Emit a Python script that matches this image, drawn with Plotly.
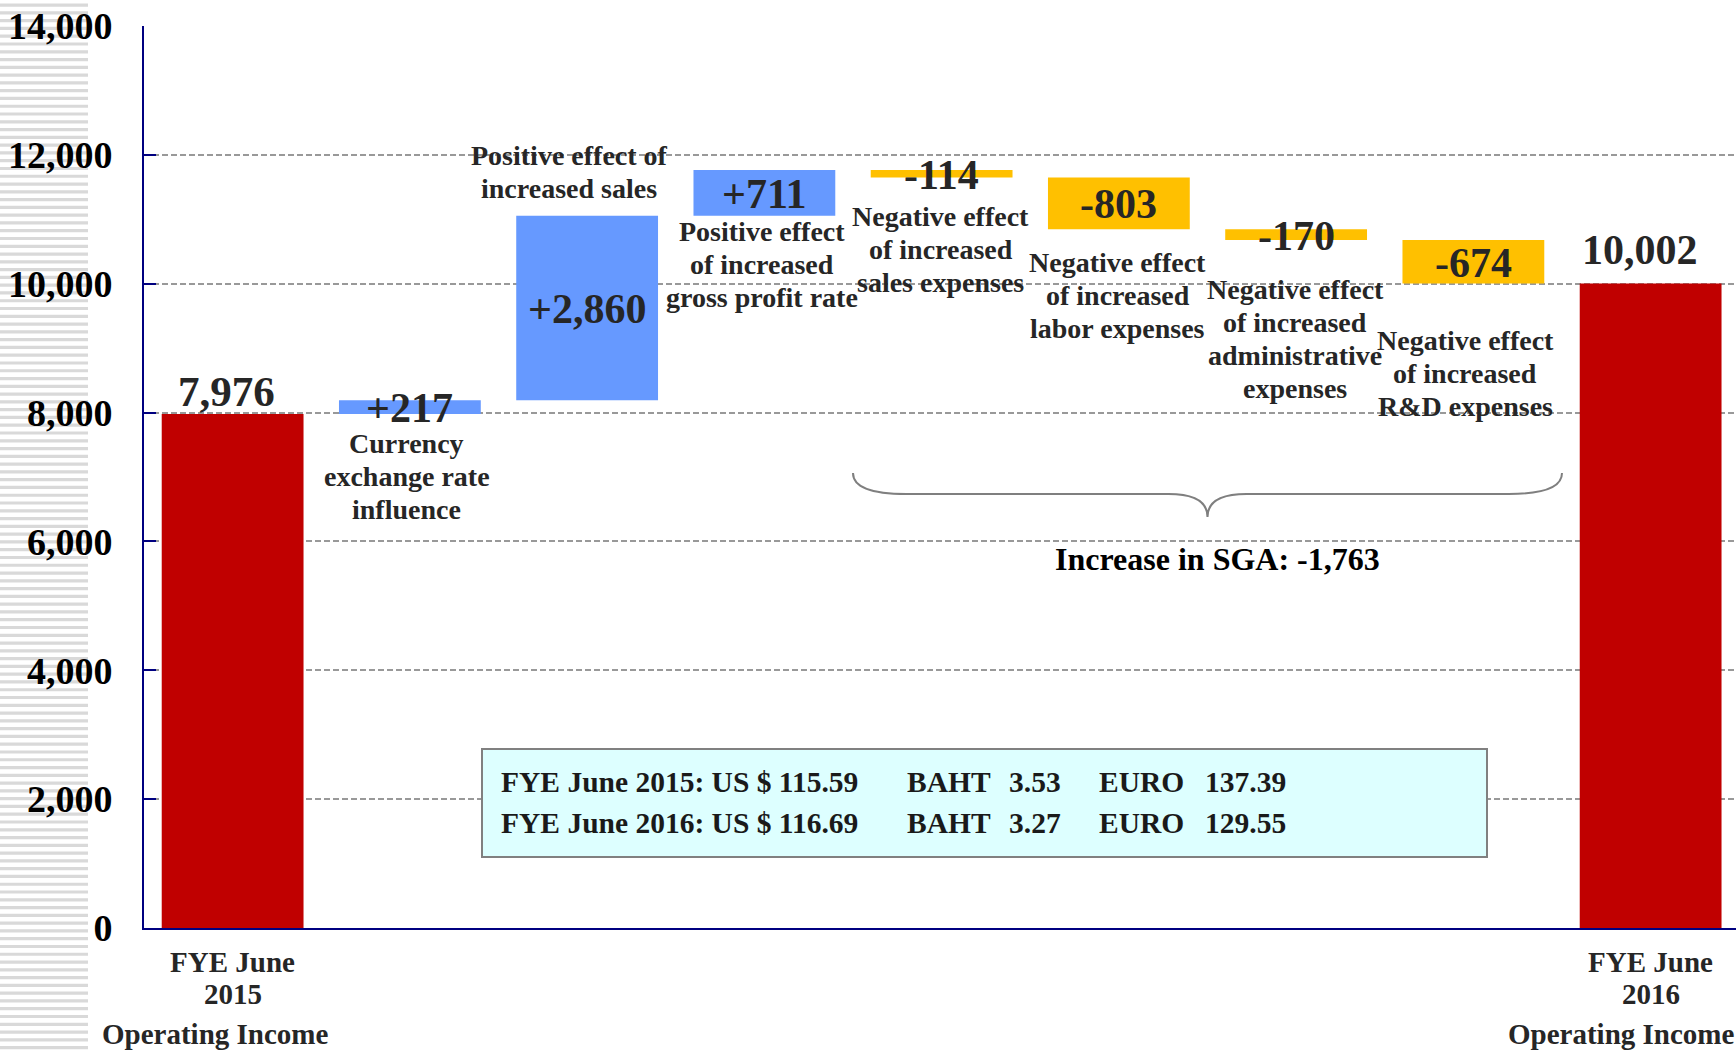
import plotly.graph_objects as go

# ---------------- data ----------------
categories = ["FYE June 2015", "Currency exchange rate influence", "Increased sales",
              "Gross profit rate", "Sales expenses", "Labor expenses",
              "Administrative expenses", "R&D expenses", "FYE June 2016"]
measures = ["absolute", "relative", "relative", "relative", "relative",
            "relative", "relative", "relative", "absolute"]
values = [7976, 217, 2860, 711, -114, -803, -170, -674, 10002]
value_labels = ["7,976", "+217", "+2,860", "+711", "-114", "-803", "-170", "-674", "10,002"]
descriptions = ["",
                "Currency<br>exchange rate<br>influence",
                "Positive effect of<br>increased sales",
                "Positive effect<br>of increased<br>gross profit rate",
                "Negative effect<br>of increased<br>sales expenses",
                "Negative effect<br>of increased<br>labor expenses",
                "Negative effect<br>of increased<br>administrative<br>expenses",
                "Negative effect<br>of increased<br>R&amp;D expenses",
                ""]
axis_line1 = ["FYE June", "", "", "", "", "", "", "", "FYE June"]
axis_line2 = ["2015", "", "", "", "", "", "", "", "2016"]
axis_line3 = ["Operating Income", "", "", "", "", "", "", "", "Operating Income"]
sga_items = ["Sales expenses", "Labor expenses", "Administrative expenses", "R&D expenses"]
sga_label = "Increase in SGA: -1,763"
fx_years = ["FYE June 2015: US $ 115.59", "FYE June 2016: US $ 116.69"]
fx_baht = ["3.53", "3.27"]
fx_euro = ["137.39", "129.55"]
y_ticks = [0, 2000, 4000, 6000, 8000, 10000, 12000, 14000]

# ---------------- layout constants ----------------
W, H = 1736, 1051
ML, MR, MT, MB = 144, 0, 26, 123
PW, PH = W - ML - MR, H - MT - MB
YMAX = 14000
CAT_W = 177.25          # pixel width of one category slot
X_END = -0.5 + PW / CAT_W
FONT = "Liberation Serif"
RED, BLUE, YELLOW = "#C00000", "#6699FF", "#FFC000"
TXT = "#262626"


def px_x(p):
    return (p - ML) / PW


def px_y(p):
    return (H - MB - p) / PH


def px_dy(p):  # pixel y -> data value
    return (H - MB - p) / PH * YMAX


def cat_paper(idx):  # category position (index units) -> paper x
    return (idx + 0.5) / (X_END + 0.5)


# bar extents from the running sum
bottoms, tops = [], []
running = 0
for m, v in zip(measures, values):
    if m == "absolute":
        b, t = 0, v
        running = v
    else:
        b = running
        running += v
        t = running
    bottoms.append(min(b, t))
    tops.append(max(b, t))

fig = go.Figure(go.Waterfall(
    x=categories, y=values, measure=measures,
    increasing=dict(marker=dict(color=BLUE)),
    decreasing=dict(marker=dict(color=YELLOW)),
    totals=dict(marker=dict(color=RED)),
    connector=dict(visible=False),
    textinfo="none", hoverinfo="skip", showlegend=False,
))

annotations = []
# value labels
val_style = {0: (23, -6, 43), 8: (34, -11, 42)}
for i, (c, lab) in enumerate(zip(categories, value_labels)):
    if i in val_style:
        dy, dx, fs = val_style[i]
        y = tops[i]
    else:
        dy, dx, fs = -1, 0, 42
        y = (tops[i] + bottoms[i]) / 2
    annotations.append(dict(x=c, y=y, xref="x", yref="y", text=lab, showarrow=False,
                            xanchor="center", yanchor="middle", yshift=dy, xshift=dx,
                            font=dict(family=FONT, size=fs, color=TXT, weight="bold")))

# description labels, one annotation per line (anchor side, block y shift, x shift)
LINE_GAP = 33
desc_style = {1: ("bottom", -62, -3), 2: ("top", 44, -18), 3: ("bottom", -49, -2),
              4: ("bottom", -72, -1), 5: ("bottom", -66, -1), 6: ("bottom", -99, -1),
              7: ("bottom", -90, -8)}
for i, (c, d) in enumerate(zip(categories, descriptions)):
    if not d:
        continue
    side, dy, dx = desc_style[i]
    y = tops[i] if side == "top" else bottoms[i]
    lines = d.split("<br>")
    nl = len(lines)
    for k, line in enumerate(lines):
        off = (k - (nl - 1) / 2) * LINE_GAP
        annotations.append(dict(x=c, y=y, xref="x", yref="y", text=line, showarrow=False,
                                xanchor="center", yanchor="middle", yshift=dy - off,
                                xshift=dx,
                                font=dict(family=FONT, size=28, color=TXT, weight="bold")))

# axis category labels
for lines, dy, dx0 in [(axis_line1, -16, 0), (axis_line2, -48, 0), (axis_line3, -88, None)]:
    for i, (c, t) in enumerate(zip(categories, lines)):
        if not t:
            continue
        dx = dx0 if dx0 is not None else (-18 if i == 0 else -30)
        annotations.append(dict(x=c, y=0, xref="x", yref="paper", text=t, showarrow=False,
                                xanchor="center", yanchor="top", yshift=dy, xshift=dx,
                                font=dict(family=FONT, size=29, color=TXT, weight="bold")))

# brace + SGA label
i0 = categories.index(sga_items[0])
i1 = categories.index(sga_items[-1])
xl = cat_paper(i0 - 0.5)
xr = cat_paper(i1 + 0.5)
xm = (xl + xr) / 2
cw = cat_paper(1) - cat_paper(0)
y_top, y_mid, y_tip = px_dy(473), px_dy(494), px_dy(517)
brace = (f"M {xl},{y_top} Q {xl},{y_mid} {xl + 0.3 * cw},{y_mid} "
         f"L {xm - 0.22 * cw},{y_mid} Q {xm},{y_mid} {xm},{y_tip} "
         f"Q {xm},{y_mid} {xm + 0.22 * cw},{y_mid} "
         f"L {xr - 0.3 * cw},{y_mid} Q {xr},{y_mid} {xr},{y_top}")
shapes = [dict(type="path", path=brace, xref="paper", yref="y",
               line=dict(color="#7F7F7F", width=2), layer="above")]
annotations.append(dict(x=xm, y=y_tip, xref="paper", yref="y", text=sga_label,
                        showarrow=False, xanchor="center", yanchor="middle", yshift=-42,
                        xshift=10,
                        font=dict(family=FONT, size=32, color="#000000", weight="bold")))

# exchange-rate box
shapes.append(dict(type="rect", xref="paper", yref="paper",
                   x0=px_x(482), x1=px_x(1487), y0=px_y(857), y1=px_y(749),
                   fillcolor="#DDFFFF", line=dict(color="#808080", width=2), layer="above"))
row_centers = [781.5, 823]
cols = [(499, fx_years), (904.5, ["BAHT", "BAHT"]), (1006.5, fx_baht),
        (1097, ["EURO", "EURO"]), (1203, fx_euro)]
for r, yc in enumerate(row_centers):
    for xpx, texts in cols:
        annotations.append(dict(x=px_x(xpx), y=px_y(yc), xref="paper", yref="paper",
                                text=texts[r], showarrow=False, xanchor="left",
                                yanchor="middle",
                                font=dict(family=FONT, size=29.5, color="#1A1A1A",
                                          weight="bold")))

# striped left margin decoration
parts = []
p = 3.5
period, thick = 7.78, 3.2
while p < H:
    y0, y1 = px_y(p), px_y(min(p + thick, H))
    parts.append(f"M {px_x(0)},{y0} L {px_x(88)},{y0} L {px_x(88)},{y1} L {px_x(0)},{y1} Z")
    p += period
shapes.append(dict(type="path", path=" ".join(parts), xref="paper", yref="paper",
                   fillcolor="#D9D9D9", line=dict(width=0), layer="below"))

fig.update_layout(
    width=W, height=H,
    margin=dict(l=ML, r=MR, t=MT, b=MB, pad=0),
    paper_bgcolor="white", plot_bgcolor="white",
    bargap=0.227,
    showlegend=False,
    shapes=shapes,
    annotations=annotations,
    xaxis=dict(showticklabels=False, ticks="", showgrid=False, showline=True,
               linecolor="#000080", linewidth=2, zeroline=False,
               range=[-0.5, X_END]),
    yaxis=dict(range=[0, YMAX], tickvals=y_ticks, tickformat=",",
               showgrid=True, gridcolor="#999999", gridwidth=2, griddash="6px,3px",
               showline=True, linecolor="#000080", linewidth=2,
               ticks="inside", ticklen=12, tickwidth=2, tickcolor="#000080",
               ticklabelstandoff=22, zeroline=False,
               tickfont=dict(family=FONT, size=38, color="#000000", weight="bold")),
)

fig.write_html("out.html")
